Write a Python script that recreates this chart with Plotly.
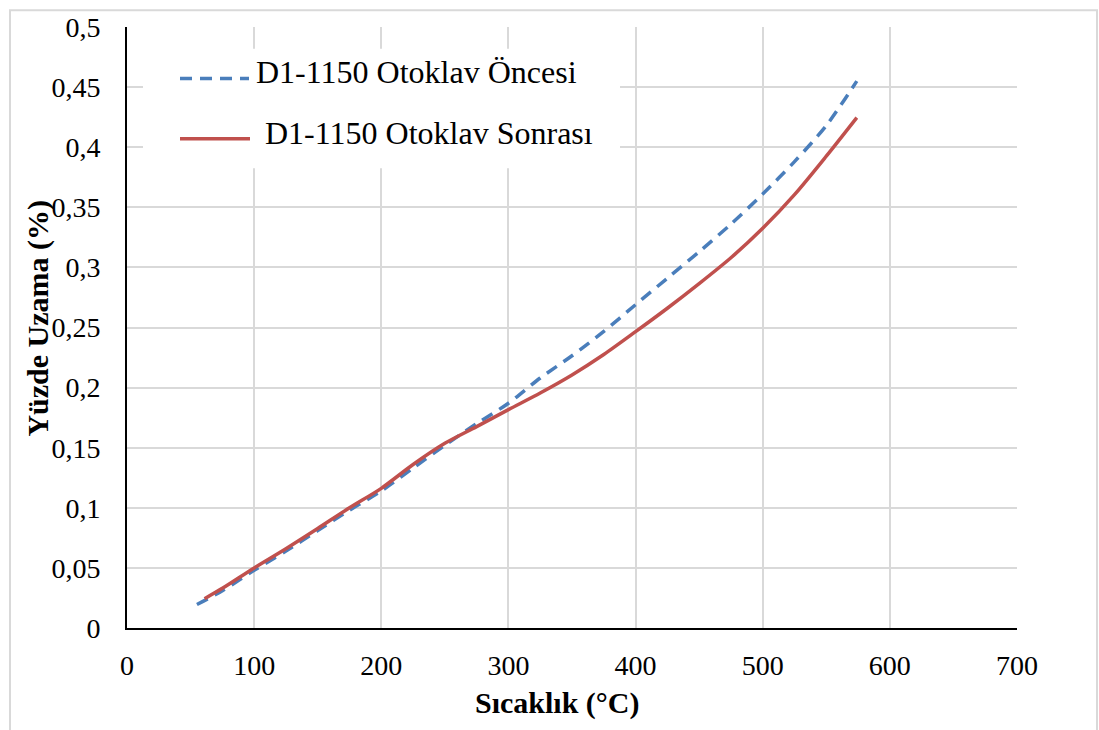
import plotly.graph_objects as go

# Sıcaklık (°C) vs Yüzde Uzama (%) for sample D1-1150
temp_oncesi = [55, 75, 100, 125, 150, 175, 200, 225, 250, 275, 300, 325, 350,
               375, 400, 425, 450, 475, 500, 525, 550, 574]
uzama_oncesi = [0.0195, 0.031, 0.048, 0.064, 0.081, 0.098, 0.114, 0.133, 0.152,
                0.170, 0.187, 0.208, 0.2265, 0.2467, 0.269, 0.291, 0.313, 0.336,
                0.361, 0.388, 0.418, 0.455]

temp_sonrasi = [61, 75, 100, 125, 150, 175, 200, 225, 250, 275, 300, 325, 350,
                375, 400, 425, 450, 475, 500, 525, 550, 574]
uzama_sonrasi = [0.0244, 0.033, 0.050, 0.066, 0.0828, 0.100, 0.1162, 0.136,
                 0.1536, 0.1675, 0.1817, 0.1955, 0.2105, 0.2275, 0.2465, 0.266,
                 0.2865, 0.308, 0.3325, 0.3605, 0.3925, 0.4246]

series_names = ["D1-1150 Otoklav Öncesi", "D1-1150 Otoklav Sonrası"]

x_ticks = [0, 100, 200, 300, 400, 500, 600, 700]
x_tick_text = ["0", "100", "200", "300", "400", "500", "600", "700"]
y_ticks = [0, 0.05, 0.1, 0.15, 0.2, 0.25, 0.3, 0.35, 0.4, 0.45, 0.5]
y_tick_text = ["0", "0,05", "0,1", "0,15", "0,2", "0,25", "0,3", "0,35",
               "0,4", "0,45", "0,5"]

BLUE = "#4a7ebb"
RED = "#c0504d"
GRID = "#d9d9d9"
FONT = "Liberation Serif"

fig = go.Figure()
fig.add_trace(go.Scatter(
    x=temp_oncesi, y=uzama_oncesi, mode="lines", name=series_names[0],
    line=dict(color=BLUE, width=3.5, dash="12px,8px", shape="spline", smoothing=0.8),
    showlegend=False,
))
fig.add_trace(go.Scatter(
    x=temp_sonrasi, y=uzama_sonrasi, mode="lines", name=series_names[1],
    line=dict(color=RED, width=3.5, shape="spline", smoothing=0.8),
    showlegend=False,
))

W, H = 1099, 730
L, R, T, B = 127, 82, 20, 102
pw, ph = W - L - R, H - T - B


def px(x):
    return (x - L) / pw


def py(y):
    return (H - B - y) / ph


shapes = [
    # outer frame
    dict(type="rect", xref="paper", yref="paper", x0=px(10), x1=px(1097),
         y0=py(740), y1=py(3), line=dict(color=GRID, width=2), layer="below"),
    # legend box
    dict(type="rect", xref="paper", yref="paper", x0=px(143), x1=px(620),
         y0=py(163), y1=py(42), fillcolor="white", line=dict(width=0), layer="above"),
    dict(type="line", xref="paper", yref="paper", x0=px(180), x1=px(249),
         y0=py(72), y1=py(72), line=dict(color=BLUE, width=3.5, dash="12px,8px"),
         layer="above"),
    dict(type="line", xref="paper", yref="paper", x0=px(180), x1=px(250),
         y0=py(133), y1=py(133), line=dict(color=RED, width=3.5), layer="above"),
]

annotations = [
    dict(text=series_names[0], xref="paper", yref="paper", x=px(254), y=py(66),
         xanchor="left", yanchor="middle", showarrow=False,
         font=dict(family=FONT, size=32, color="black")),
    dict(text=series_names[1], xref="paper", yref="paper", x=px(263), y=py(127),
         xanchor="left", yanchor="middle", showarrow=False,
         font=dict(family=FONT, size=32, color="black")),
    dict(text="<b>Sıcaklık (°C)</b>", xref="paper", yref="paper", x=px(557),
         y=py(704), xanchor="center", yanchor="middle", showarrow=False,
         font=dict(family=FONT, size=30, color="black")),
    dict(text="<b>Yüzde Uzama (%)</b>", xref="paper", yref="paper", x=px(38),
         y=py(315), xanchor="center", yanchor="middle", showarrow=False,
         textangle=-90, font=dict(family=FONT, size=30, color="black")),
]

fig.update_layout(
    width=W, height=H,
    margin=dict(l=L, r=R, t=T, b=B, pad=0),
    paper_bgcolor="white", plot_bgcolor="white",
    font=dict(family=FONT, size=28, color="black"),
    shapes=shapes, annotations=annotations,
    showlegend=False,
)
fig.update_xaxes(
    range=[0, 700], tickvals=x_ticks, ticktext=x_tick_text,
    showgrid=True, gridcolor=GRID, gridwidth=1.5,
    showline=True, linecolor="black", linewidth=2,
    ticks="", ticklabelstandoff=11, zeroline=False,
    tickfont=dict(family=FONT, size=28, color="black"),
)
fig.update_yaxes(
    range=[0, 0.5], tickvals=y_ticks, ticktext=y_tick_text,
    showgrid=True, gridcolor=GRID, gridwidth=1.5,
    showline=True, linecolor="black", linewidth=2,
    ticks="", ticklabelstandoff=19, zeroline=False,
    tickfont=dict(family=FONT, size=28, color="black"),
)

fig.write_html("out.html")
